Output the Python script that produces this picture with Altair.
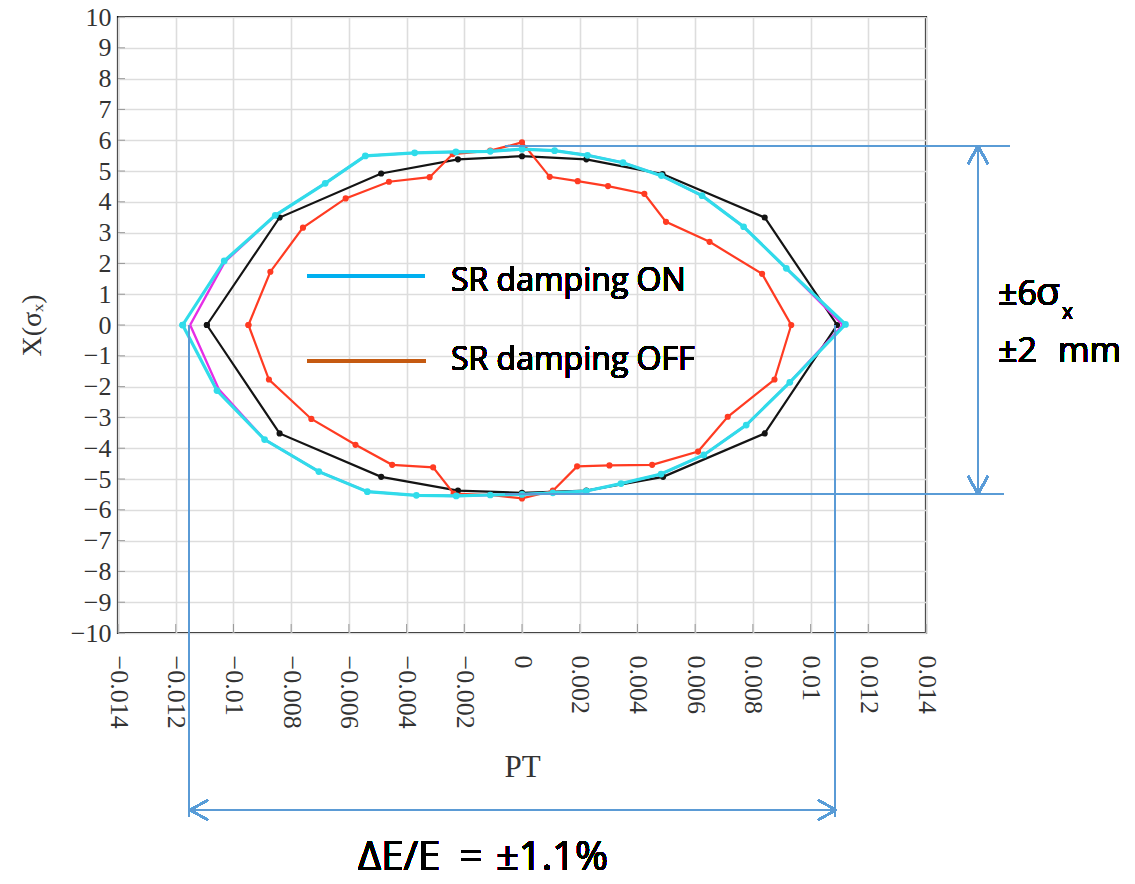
import altair as alt
import pandas as pd

# ---------------- data ----------------
x_ticks = [-0.014, -0.012, -0.01, -0.008, -0.006, -0.004, -0.002, 0,
           0.002, 0.004, 0.006, 0.008, 0.01, 0.012, 0.014]
y_ticks = list(range(-10, 11))

# SR damping ON (cyan)
on_top_x = [-0.01176, -0.01032, -0.00855, -0.00682, -0.00543, -0.00372, -0.00229, -0.00110, 0.0,
            0.00113, 0.00227, 0.00350, 0.00483, 0.00624, 0.00768, 0.00916, 0.01121]
on_top_y = [0.0, 2.08, 3.56, 4.60, 5.49, 5.59, 5.62, 5.64, 5.71,
            5.66, 5.51, 5.27, 4.85, 4.20, 3.19, 1.84, 0.02]
on_bot_x = [0.01121, 0.00928, 0.00777, 0.00630, 0.00482, 0.00343, 0.00223, 0.00107, 0.0,
            -0.00110, -0.00228, -0.00366, -0.00536, -0.00704, -0.00892, -0.01057, -0.01176]
on_bot_y = [0.0, -1.86, -3.25, -4.22, -4.84, -5.15, -5.39, -5.45, -5.50,
            -5.52, -5.55, -5.53, -5.41, -4.76, -3.72, -2.13, 0.0]

# magenta trace hidden under the cyan one
mg_top_x = [-0.01150, -0.01030, -0.00855, -0.00682, -0.00543, -0.00372, -0.00229, -0.00110, 0.0,
            0.00113, 0.00227, 0.00350, 0.00483, 0.00624, 0.00768, 0.00916, 0.01112]
mg_top_y = [0.0, 2.05, 3.56, 4.60, 5.49, 5.59, 5.62, 5.64, 5.71,
            5.66, 5.51, 5.27, 4.85, 4.20, 3.19, 1.84, 0.0]
mg_bot_x = [0.01112, 0.00928, 0.00777, 0.00630, 0.00482, 0.00343, 0.00223, 0.00107, 0.0,
            -0.00110, -0.00228, -0.00366, -0.00536, -0.00704, -0.00892, -0.01050, -0.01150]
mg_bot_y = [0.0, -1.86, -3.25, -4.22, -4.84, -5.15, -5.39, -5.45, -5.50,
            -5.52, -5.55, -5.53, -5.41, -4.76, -3.72, -2.10, 0.0]

# black trace
bk_top_x = [-0.01092, -0.00840, -0.00488, -0.00222, 0.0, 0.00223, 0.00487, 0.00841, 0.01092]
bk_top_y = [0.0, 3.49, 4.92, 5.38, 5.48, 5.38, 4.90, 3.49, 0.0]
bk_bot_x = [0.01092, 0.00841, 0.00489, 0.00223, 0.0, -0.00222, -0.00488, -0.00840, -0.01092]
bk_bot_y = [0.0, -3.52, -4.93, -5.38, -5.45, -5.38, -4.93, -3.52, 0.0]

# SR damping OFF (red)
rd_top_x = [-0.00948, -0.00872, -0.00759, -0.00611, -0.00461, -0.00320, -0.00240, -0.00110, 0.0,
            0.00096, 0.00193, 0.00298, 0.00424, 0.00499, 0.00650, 0.00832, 0.00933]
rd_top_y = [0.0, 1.73, 3.16, 4.11, 4.65, 4.80, 5.55, 5.66, 5.93,
            4.81, 4.67, 4.51, 4.26, 3.35, 2.70, 1.66, 0.0]
rd_bot_x = [0.00933, 0.00875, 0.00713, 0.00610, 0.00451, 0.00303, 0.00191, 0.00107, 0.0,
            -0.00110, -0.00237, -0.00308, -0.00450, -0.00577, -0.00730, -0.00877, -0.00948]
rd_bot_y = [0.0, -1.77, -2.98, -4.11, -4.54, -4.56, -4.59, -5.38, -5.63,
            -5.52, -5.47, -4.62, -4.54, -3.89, -3.05, -1.77, 0.0]


def trace(name, tx, ty, bx, by):
    xs = tx + bx[1:]
    ys = ty + by[1:]
    return pd.DataFrame({"pt": xs, "x": ys, "series": name, "order": range(len(xs))})


df = pd.concat([
    trace("black", bk_top_x, bk_top_y, bk_bot_x, bk_bot_y),
    trace("red", rd_top_x, rd_top_y, rd_bot_x, rd_bot_y),
    trace("magenta", mg_top_x, mg_top_y, mg_bot_x, mg_bot_y),
    trace("cyan", on_top_x, on_top_y, on_bot_x, on_bot_y),
], ignore_index=True)

series_names = ["black", "red", "magenta", "cyan"]
series_colors = ["#141414", "#ff3b22", "#e62ee6", "#30dcea"]
color_scale = alt.Scale(domain=series_names, range=series_colors)

W, H = 808, 616
SERIF = "Liberation Serif, Times New Roman, DejaVu Serif, serif"

xscale = alt.Scale(domain=[-0.014, 0.014], nice=False, zero=False)
yscale = alt.Scale(domain=[-10, 10], nice=False, zero=False)

xenc = alt.X("pt:Q", title="PT", scale=xscale,
             axis=alt.Axis(values=x_ticks, format="~g", labelAngle=90, labelPadding=22,
                           labelOverlap=False,
                           labelFont=SERIF, labelFontSize=26, labelColor="#333333",
                           titleFont=SERIF, titleFontSize=31, titleFontWeight="normal",
                           titleColor="#333333", titlePadding=24, ticks=False, domain=False,
                           gridColor="#dddddd", gridWidth=1.6))
yenc = alt.Y("x:Q", title="X(σₓ)", scale=yscale,
             axis=alt.Axis(values=y_ticks, labelPadding=7, labelOverlap=False,
                           labelFont=SERIF, labelFontSize=26, labelColor="#333333",
                           titleFont=SERIF, titleFontSize=28, titleFontWeight="normal",
                           titleColor="#333333", titlePadding=24, ticks=False, domain=False,
                           gridColor="#dddddd", gridWidth=1.6))

base = alt.Chart(df)

layers = []
for name, width in [("black", 2.2), ("red", 2.2), ("magenta", 2.4), ("cyan", 3.2)]:
    sub = base.transform_filter(alt.datum.series == name)
    layers.append(sub.mark_line(strokeWidth=width, clip=False).encode(
        x=xenc, y=yenc, order="order:Q",
        color=alt.Color("series:N", scale=color_scale, legend=None)))
    if name != "magenta":
        layers.append(sub.mark_circle(size=45 if name == "cyan" else 38, opacity=1).encode(
            x=xenc, y=yenc,
            color=alt.Color("series:N", scale=color_scale, legend=None)))

# small inward ticks on the frame
xt = pd.DataFrame({"pt": x_ticks})
yt = pd.DataFrame({"x": y_ticks})
ticks_x = alt.Chart(xt).mark_tick(color="#777777", thickness=1, size=9).encode(
    x=xenc, y=alt.value(H - 4.5))
ticks_y = alt.Chart(yt).mark_tick(color="#777777", thickness=1, size=7).encode(
    y=yenc, x=alt.value(3.5))

BLUE = "#5b9bd5"


def seg(x1, y1, x2, y2, color=BLUE, w=1.2):
    return alt.Chart(df).mark_rule(color=color, strokeWidth=w, clip=False).encode(
        x=alt.value(x1), y=alt.value(y1), x2=alt.value(x2), y2=alt.value(y2))


def txt(s, x, y, size, align="left", font="Open Sans"):
    return alt.Chart(df).mark_text(text=s, align=align, baseline="alphabetic", font=font,
                                   fontSize=size, color="#000000", clip=False).encode(
        x=alt.value(x), y=alt.value(y))


annot = [
    # horizontal guide lines at top/bottom of aperture
    seg(387, 129, 892, 129), seg(387, 477, 886, 477),
    # vertical double arrow
    seg(860, 129, 860, 477, w=2),
    seg(860, 129, 850, 147, w=2), seg(860, 129, 870, 147, w=2),
    seg(860, 477, 850, 459, w=2), seg(860, 477, 870, 459, w=2),
    # vertical guide lines down from the tips
    seg(71, 308, 71, 800), seg(717, 308, 717, 800),
    # horizontal double arrow
    seg(72, 793, 718, 793, w=2),
    seg(72, 793, 90, 783, w=2), seg(72, 793, 90, 803, w=2),
    seg(718, 793, 700, 783, w=2), seg(718, 793, 700, 803, w=2),
    # legend
    seg(189, 259, 307, 259, color="#00b0f0", w=4),
    seg(189, 344, 308, 344, color="#c55a11", w=4),
    txt("SR damping ON", 333, 274, 32),
    txt("SR damping OFF", 333, 353, 32),
    # right-hand annotation
    txt("±6", 880, 288, 34),
    txt("σ", 918, 288, 39),
    txt("x", 944, 302, 21),
    txt("±2", 880, 345, 34),
    txt("mm", 940, 345, 34),
    # bottom annotation
    txt("ΔE/E", 240, 853, 40),
    txt("=", 353, 853, 40, align="center"),
    txt("±1.1%", 378, 853, 40),
]

chart = alt.layer(*layers, ticks_x, ticks_y, *annot).properties(
    width=W, height=H,
    autosize=alt.AutoSizeParams(type="none"),
    padding={"left": 110, "top": 9, "right": 201, "bottom": 243},
).configure(background="white").configure_view(stroke="#111111", strokeWidth=2.2)

chart.save("out.html", embed_options={"renderer": "svg", "actions": False})
